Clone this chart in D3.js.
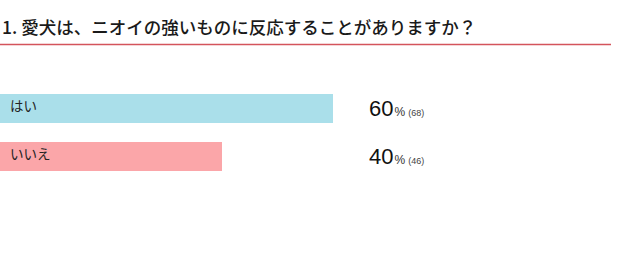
<!DOCTYPE html>
<html><head><meta charset="utf-8">
<script src="https://cdn.jsdelivr.net/npm/d3@7"></script>
<style>
html,body{margin:0;padding:0;background:#fff;}
svg{display:block;}
</style></head>
<body>
<script>
const title = "1. 愛犬は、ニオイの強いものに反応することがありますか？";
const categories = ["はい", "いいえ"];
const percents = [60, 40];
const counts = [68, 46];
const colors = ["#aadfea", "#fba6a9"];

const W = 620, H = 264;
const svg = d3.select("body").append("svg").attr("width", W).attr("height", H);
const font = "'Noto Sans CJK JP', 'Noto Sans', sans-serif";

svg.append("text").attr("x", 2).attr("y", 34)
  .attr("font-family", font).attr("font-size", 17.5).attr("font-weight", 500).attr("fill", "#1a1a1a")
  .text(title);

svg.append("line").attr("x1", 0).attr("x2", 611).attr("y1", 44.5).attr("y2", 44.5)
  .attr("stroke", "#d4545c").attr("stroke-width", 1.5);

const x = d3.scaleLinear().domain([0, 100]).range([0, 555]);
const y = d3.scaleBand().domain(categories).range([94, 171]).paddingInner(19/48).paddingOuter(0);

const g = svg.append("g");
categories.forEach((c, i) => {
  g.append("rect").attr("x", x(0)).attr("y", y(c)).attr("width", x(percents[i]) - x(0))
    .attr("height", y.bandwidth()).attr("fill", colors[i]);
  g.append("text").attr("x", 10).attr("y", y(c) + y.bandwidth()/2 + 2.5)
    .attr("font-family", font).attr("font-size", 13.5).attr("fill", "#222")
    .text(c);
  const t = g.append("text").attr("x", 369).attr("y", y(c) + y.bandwidth()/2 + 7)
    .attr("font-family", "'Liberation Sans', Arial, sans-serif").attr("fill", "#111");
  t.append("tspan").attr("font-size", 22).text(percents[i]);
  t.append("tspan").attr("font-size", 12).attr("dx", 1).attr("fill", "#333").text("%");
  t.append("tspan").attr("font-size", 9).attr("dx", 3).attr("fill", "#444").text("(" + counts[i] + ")");
});
</script>
</body></html>
